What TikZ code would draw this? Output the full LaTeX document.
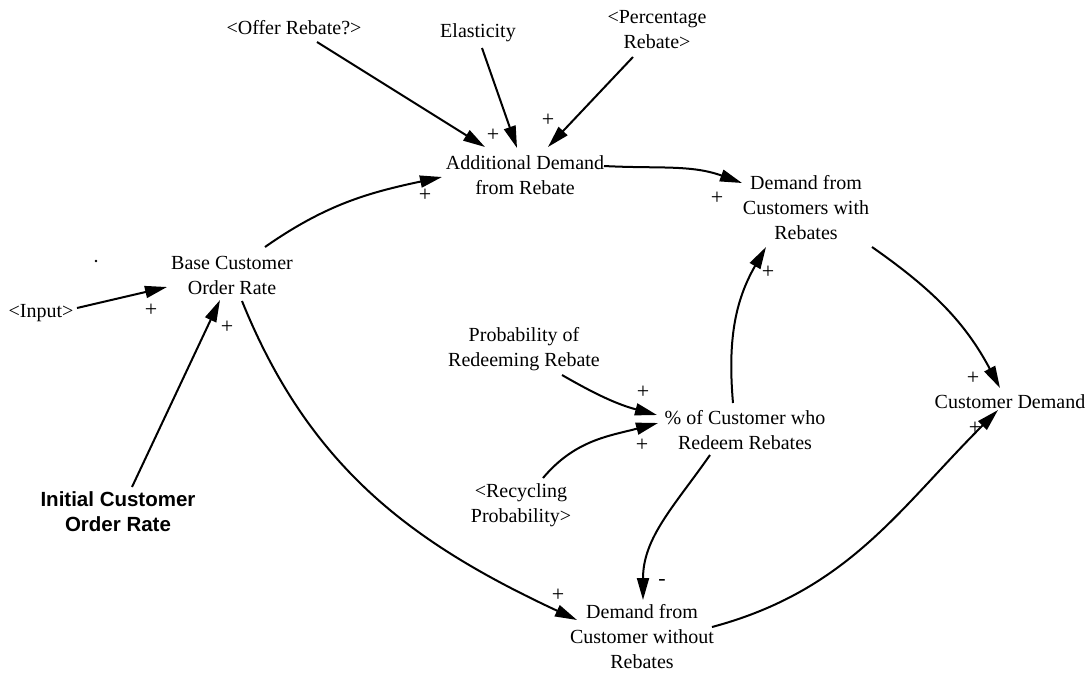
\documentclass[tikz,border=0pt]{standalone}
\usepackage{fontspec}
\setmainfont{Liberation Serif}
\newfontfamily\headsans{Liberation Sans}
\usetikzlibrary{arrows.meta}
\begin{document}
\begin{tikzpicture}[x=1pt,y=1pt,
  var/.style={inner sep=1pt,align=center,font=\fontsize{20}{25}\selectfont},
  bigvar/.style={inner sep=1pt,align=center,font=\headsans\bfseries\fontsize{20.5}{25}\selectfont},
  pol/.style={inner sep=0pt,font=\fontsize{22}{22}\selectfont},
  link/.style={line width=2pt,-{Triangle[length=22pt,width=12pt]}}]
\useasboundingbox (0,0) rectangle (1090,-673);

% variables
\node[var] (offer) at (294,-27.5) {<Offer Rebate?>};
\node[var] (elast) at (478,-33) {Elasticity};
\node[var] (perc) at (657,-30) {<Percentage\\Rebate>};
\node[var] (add) at (525,-175) {Additional Demand\\from Rebate};
\node[var] (dwr) at (806,-208) {Demand from\\Customers with\\Rebates};
\node[var] (cd) at (1010,-402) {Customer Demand};
\node[var] (base) at (232,-275) {Base Customer\\Order Rate};
\node[var] (input) at (41,-313) {<Input>};
\node[bigvar] (initial) at (118,-512) {Initial Customer\\Order Rate};
\node[var] (prob) at (524,-349) {Probability of\\Redeeming Rebate};
\node[var] (pct) at (745,-430) {\% of Customer who\\Redeem Rebates};
\node[var] (recyc) at (521,-505) {<Recycling\\Probability>};
\node[var] (dwo) at (642,-637) {Demand from\\Customer without\\Rebates};
\fill (96,-261) circle (1.3pt);

% causal links
\draw[link] ([shift={(23,-14.5)}]offer.center) -- ([shift={(-40,28)}]add.center);
\draw[link] ([shift={(4,-15)}]elast.center) -- ([shift={(-8,27)}]add.center);
\draw[link] ([shift={(-24,-27)}]perc.center) -- ([shift={(23,28)}]add.center);
\draw[link] ([shift={(33,28)}]base.center) to[out=35,in=192] ([shift={(-83,-2)}]add.center);
\draw[link] ([shift={(79,9)}]add.center) to[out=-3,in=160] ([shift={(-64,25)}]dwr.center);
\draw[link] ([shift={(66,-39)}]dwr.center) to[out=-35,in=118] ([shift={(-10,14)}]cd.center);
\draw[link] ([shift={(-12,27)}]pct.center) to[out=95,in=240] ([shift={(-40,-39)}]dwr.center);
\draw[link] ([shift={(38,-26)}]prob.center) to[out=-30,in=165] ([shift={(-88,15)}]pct.center);
\draw[link] ([shift={(22,27)}]recyc.center) to[out=50,in=195] ([shift={(-87,7)}]pct.center);
\draw[link] ([shift={(-35,-25)}]pct.center) to[out=235,in=90] ([shift={(1,37)}]dwo.center);
\draw[link] ([shift={(10,-26)}]base.center) to[out=-68,in=155] ([shift={(-65,17)}]dwo.center);
\draw[link] ([shift={(70,10)}]dwo.center) to[out=15,in=225] ([shift={(-12,-8)}]cd.center);
\draw[link] ([shift={(36,5)}]input.center) -- ([shift={(-65,-12)}]base.center);
\draw[link] ([shift={(14,25)}]initial.center) -- ([shift={(-12,-25)}]base.center);

% polarities
\node[pol] (p1) at (493,-135) {+};
\node[pol] (p2) at (548,-120) {+};
\node[pol] (p3) at (425,-195) {+};
\node[pol] (p4) at (717,-198) {+};
\node[pol] (p5) at (768,-272) {+};
\node[pol] (p6) at (973,-378) {+};
\node[pol] (p7) at (975,-428) {+};
\node[pol] (p8) at (151,-310) {+};
\node[pol] (p9) at (227,-327) {+};
\node[pol] (p10) at (643,-392) {+};
\node[pol] (p11) at (642,-445) {+};
\node[pol] (p12) at (558,-595) {+};
\node[pol] (m1) at (662,-582) {-};
\end{tikzpicture}
\end{document}
